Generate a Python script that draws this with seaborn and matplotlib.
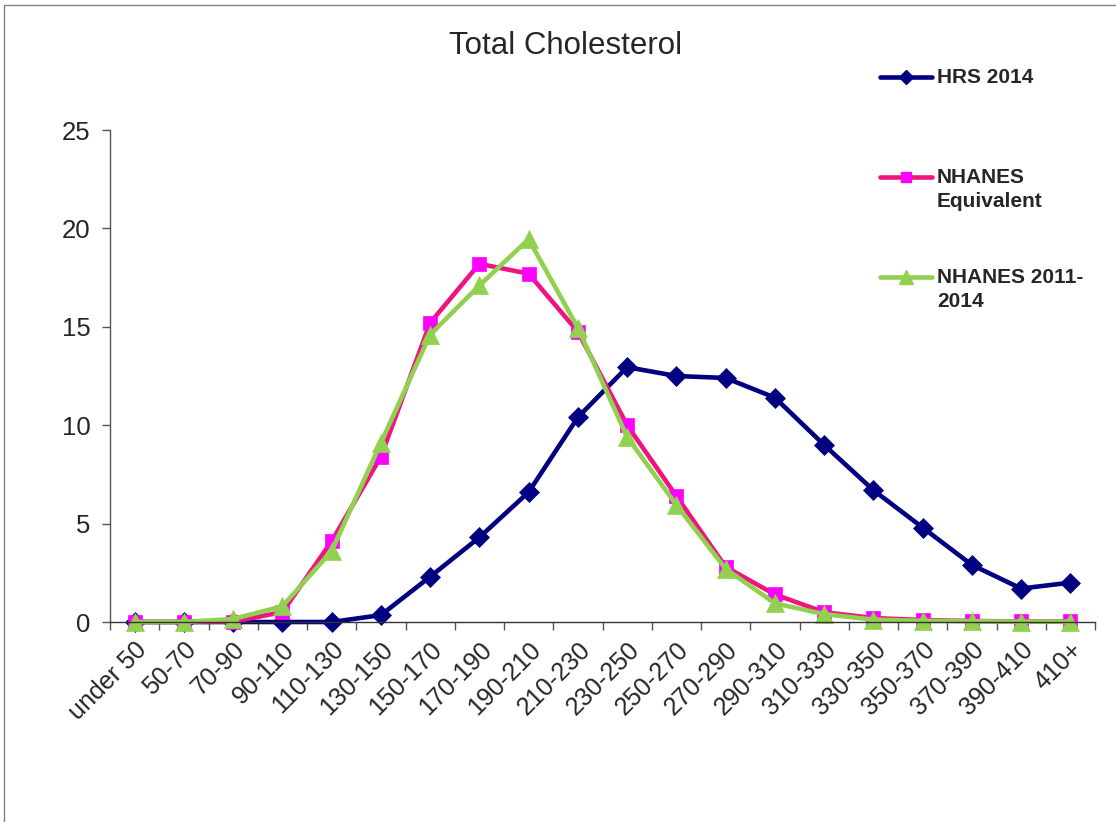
import pandas as pd
import matplotlib
matplotlib.use("Agg")
import matplotlib.pyplot as plt
import seaborn as sns
from matplotlib.lines import Line2D
from matplotlib.patches import Rectangle

# Cholesterol bins and percent of people in each
bins = ["under 50", "50-70", "70-90", "90-110", "110-130", "130-150", "150-170",
        "170-190", "190-210", "210-230", "230-250", "250-270", "270-290",
        "290-310", "310-330", "330-350", "350-370", "370-390", "390-410", "410+"]
hrs_2014 = [0, 0, 0, 0, 0, 0.35, 2.3, 4.3, 6.6, 10.4, 12.95, 12.5, 12.4,
            11.4, 9.0, 6.7, 4.8, 2.9, 1.7, 2.0]
nhanes_equiv = [0, 0, 0.02, 0.5, 4.1, 8.4, 15.2, 18.2, 17.7, 14.75, 10.0, 6.4,
                2.8, 1.4, 0.5, 0.2, 0.1, 0.05, 0.03, 0.03]
nhanes_1114 = [0, 0, 0.15, 0.8, 3.6, 9.1, 14.6, 17.1, 19.45, 14.95, 9.4, 5.95,
               2.7, 0.95, 0.4, 0.12, 0.06, 0.04, 0.02, 0.02]

series_names = ["HRS 2014", "NHANES\nEquivalent", "NHANES 2011-\n2014"]
line_colors = ["#000080", "#F0147F", "#92D050"]
marker_colors = ["#000080", "#FF00FF", "#92D050"]
markers = ["D", "s", "^"]
marker_sizes = [10, 9.5, 13]

sns.set_style("white")
plt.rcParams["font.family"] = ["Liberation Sans", "DejaVu Sans"]

fig = plt.figure(figsize=(11.16, 8.22), dpi=100)
ax = fig.add_axes([110 / 1116, 1 - 622 / 822, (1095 - 110) / 1116, (622 - 130) / 822])

all_series = [hrs_2014, nhanes_equiv, nhanes_1114]
for name, vals, lc, mc, mk, ms in zip(series_names, all_series, line_colors,
                                      marker_colors, markers, marker_sizes):
    df = pd.DataFrame({"pos": range(len(vals)), "pct": vals})
    sns.lineplot(data=df, x="pos", y="pct", ax=ax, color=lc, linewidth=3.3,
                 marker=mk, markersize=ms, markerfacecolor=mc,
                 markeredgecolor=mc, markeredgewidth=0.5, legend=False)

n_bins = len(bins)
ax.set_xlim(-0.5, n_bins - 0.5)
ax.set_ylim(0, 25)
ax.set_yticks([0, 5, 10, 15, 20, 25])
ax.set_xticks(range(n_bins))
ax.set_xticklabels(bins, rotation=45, ha="right", rotation_mode="anchor",
                   fontsize=18)
ax.tick_params(axis="x", length=0, pad=11)
ax.tick_params(axis="y", labelsize=18.5, length=6, width=1, color="#555555",
               direction="out", left=True, pad=8)
# category boundary ticks on the x axis
ax.set_xticks([i - 0.5 for i in range(n_bins + 1)], minor=True)
ax.tick_params(axis="x", which="minor", length=6, width=1, color="#555555",
               direction="out", bottom=True)
ax.set_xlabel("")
ax.set_ylabel("")
for side in ["top", "right"]:
    ax.spines[side].set_visible(False)
ax.spines["left"].set_color("#555555")
ax.spines["bottom"].set_color("#333333")
ax.spines["left"].set_linewidth(1)
ax.spines["bottom"].set_linewidth(1)
for line in ax.lines:
    line.set_clip_on(False)

fig.text(566 / 1116, 1 - 46 / 822, "Total Cholesterol", ha="center",
         va="center", fontsize=22.5)

# legend drawn like the Excel one, handle beside the first text line
leg_y = [77, 177, 277]
for name, lc, mc, mk, ms, y in zip(series_names, line_colors, marker_colors,
                                   markers, marker_sizes, leg_y):
    yf = 1 - y / 822
    fig.add_artist(Line2D([880 / 1116, 932 / 1116], [yf, yf], color=lc,
                          linewidth=3.3, solid_capstyle="round"))
    fig.add_artist(Line2D([906 / 1116], [yf], marker=mk, markersize=ms * 0.75,
                          markerfacecolor=mc, markeredgecolor=mc, linestyle=""))
    fig.text(937 / 1116, yf + 9 / 822, name, ha="left", va="top",
             fontsize=15, fontweight="bold", linespacing=1.32)

# thin grey frame round the chart
fig.add_artist(Rectangle((4 / 1116, -0.01), 1.2, 1 - 5 / 822 + 0.01,
                         transform=fig.transFigure, fill=False,
                         edgecolor="#808080", linewidth=1))

fig.savefig("out.png", dpi=100)
